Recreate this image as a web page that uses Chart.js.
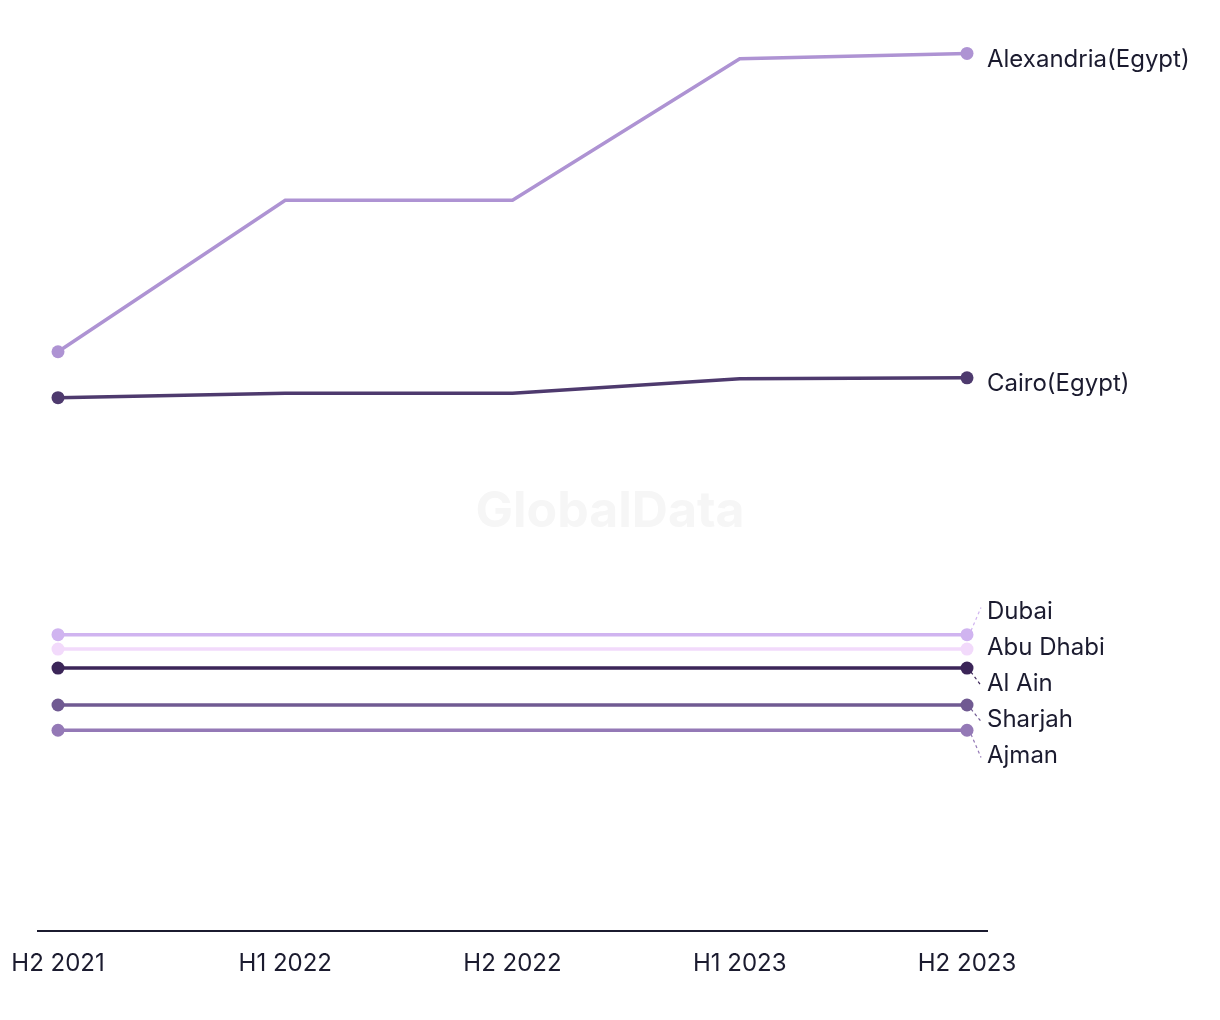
<!DOCTYPE html>
<html>
<head>
<meta charset="utf-8">
<script src="https://cdn.jsdelivr.net/npm/chart.js@4.4.1/dist/chart.umd.min.js"></script>
<style>
html,body{margin:0;padding:0;background:#fff;}
#wrap{width:1220px;height:1020px;position:relative;}
</style>
</head>
<body>
<div id="wrap"><canvas id="c" width="1220" height="1020"></canvas></div>
<script>
const periods = ["H2 2021", "H1 2022", "H2 2022", "H1 2023", "H2 2023"];
const seriesNames = ["Alexandria(Egypt)", "Cairo(Egypt)", "Dubai", "Abu Dhabi", "Al Ain", "Sharjah", "Ajman"];
const alexandria = [64.3, 81.1, 81.1, 96.8, 97.4];
const cairo = [59.2, 59.7, 59.7, 61.3, 61.4];
const dubai = [32.9, 32.9, 32.9, 32.9, 32.9];
const abuDhabi = [31.3, 31.3, 31.3, 31.3, 31.3];
const alAin = [29.2, 29.2, 29.2, 29.2, 29.2];
const sharjah = [25.1, 25.1, 25.1, 25.1, 25.1];
const ajman = [22.3, 22.3, 22.3, 22.3, 22.3];
const seriesColors = ["#ae93d3", "#4e3a6e", "#d0b4f0", "#f2dafb", "#3b2558", "#705a92", "#9479b6"];

const allValues = [alexandria, cairo, dubai, abuDhabi, alAin, sharjah, ajman];
const FONT = "Inter, 'Liberation Sans', sans-serif";
const TEXT = "#1b1b2f";

const datasets = allValues.map((vals, i) => ({
  label: seriesNames[i],
  data: vals.map((v, j) => ({x: j, y: v})),
  borderColor: seriesColors[i],
  backgroundColor: seriesColors[i],
  borderWidth: 3.5,
  pointRadius: vals.map((v, j) => (j === 0 || j === vals.length - 1) ? 6.5 : 0),
  pointHoverRadius: 6.5,
  pointBorderWidth: 0,
  tension: 0
}));

const watermark = {
  id: 'watermark',
  beforeDatasetsDraw(chart) {
    const ctx = chart.ctx;
    ctx.save();
    ctx.font = "bold 50px " + FONT;
    ctx.fillStyle = "#f6f6f6";
    ctx.textAlign = "center";
    ctx.textBaseline = "middle";
    ctx.fillText("GlobalData", chart.width / 2, 512);
    ctx.restore();
  }
};

const endLabels = {
  id: 'endLabels',
  afterDatasetsDraw(chart) {
    const ctx = chart.ctx;
    const items = chart.data.datasets.map((ds, i) => {
      const meta = chart.getDatasetMeta(i);
      const pt = meta.data[meta.data.length - 1];
      return {i, x: pt.x, y: pt.y, ly: pt.y, text: ds.label, color: ds.borderColor};
    }).sort((a, b) => a.y - b.y);
    const gap = 36;
    for (let k = 0; k < 200; k++) {
      for (let j = 1; j < items.length; j++) {
        const d = items[j].ly - items[j - 1].ly;
        if (d < gap) {
          const m = (gap - d) / 2;
          items[j].ly += m;
          items[j - 1].ly -= m;
        }
      }
    }
    const lx = chart.chartArea.right;
    ctx.save();
    items.forEach(it => {
      const ty = it.ly + 6;
      if (Math.abs(ty - it.y) > 10) {
        ctx.strokeStyle = it.color;
        ctx.lineWidth = 1.2;
        ctx.setLineDash([3, 3]);
        ctx.beginPath();
        ctx.moveTo(it.x + 4, it.y + (ty > it.y ? 4 : -4));
        ctx.lineTo(lx - 6, ty + (ty > it.y ? 2 : -4));
        ctx.stroke();
        ctx.setLineDash([]);
      }
      ctx.fillStyle = TEXT;
      ctx.font = "24px " + FONT;
      ctx.textAlign = "left";
      ctx.textBaseline = "middle";
      ctx.fillText(it.text, lx, ty);
    });
    ctx.restore();
  }
};

new Chart(document.getElementById('c'), {
  type: 'line',
  data: {datasets},
  options: {
    responsive: false,
    animation: false,
    layout: {padding: {left: 38, right: 233, top: 30, bottom: 24}},
    plugins: {legend: {display: false}, tooltip: {enabled: false}},
    scales: {
      x: {
        type: 'linear',
        min: -0.088,
        max: 4.088,
        afterBuildTicks(scale) {
          scale.ticks = periods.map((p, i) => ({value: i}));
        },
        afterFit(scale) {
          scale.paddingLeft = 0;
          scale.paddingRight = 0;
        },
        grid: {display: false, drawTicks: false},
        border: {display: true, color: TEXT, width: 2},
        ticks: {
          padding: 18,
          maxRotation: 0,
          autoSkip: false,
          color: TEXT,
          font: {family: FONT, size: 24},
          callback: (v) => periods[v]
        }
      },
      y: {
        display: false,
        min: 0,
        max: 100
      }
    }
  },
  plugins: [watermark, endLabels]
});
</script>
</body>
</html>
